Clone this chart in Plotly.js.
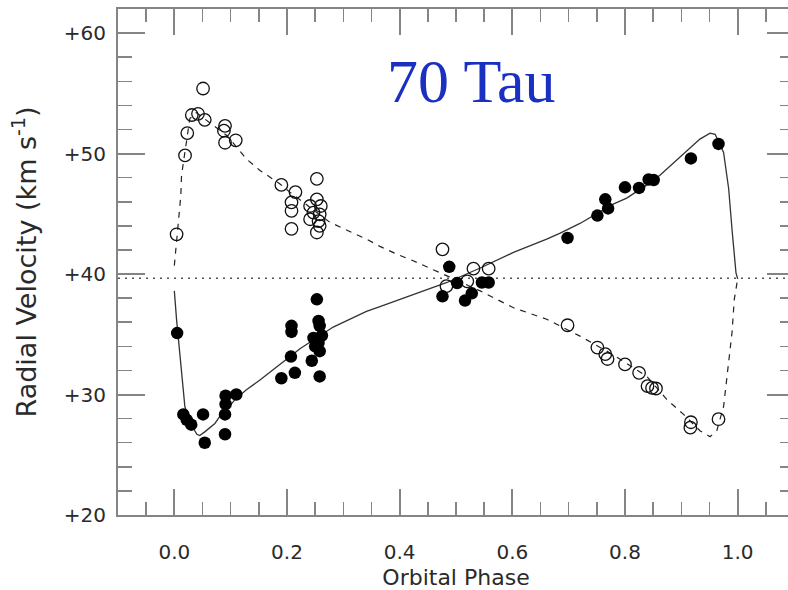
<!DOCTYPE html>
<html>
<head>
<meta charset="utf-8">
<script src="https://cdn.plot.ly/plotly-3.0.1.min.js"></script>
<style>
html,body{margin:0;padding:0;overflow:hidden;background:#fff;}
#chart{width:796px;height:590px;}
</style>
</head>
<body>
<div id="chart"></div>
<script>
// Primary star (filled circles): orbital phase and radial velocity (km/s)
var primaryPhase = [0.005,0.016,0.022,0.030,0.051,0.054,0.090,0.090,0.091,0.091,0.110,
  0.190,0.214,0.207,0.208,0.208,0.253,0.256,0.258,0.247,0.256,0.258,0.244,0.258,0.250,0.262,
  0.476,0.488,0.502,0.516,0.528,0.546,0.558,
  0.698,0.751,0.765,0.770,0.800,0.825,0.842,0.851,0.917,0.966];
var primaryVel = [35.1,28.35,27.9,27.5,28.35,26.0,26.7,28.35,29.2,29.9,30.0,
  31.35,31.8,33.15,35.7,35.2,37.9,36.1,35.7,34.7,34.3,33.6,32.8,31.5,34.0,34.9,
  38.15,40.6,39.25,37.8,38.4,39.3,39.3,
  43.0,44.85,46.2,45.45,47.2,47.15,47.85,47.8,49.6,50.8];

// Secondary star (open circles)
var secondaryPhase = [0.004,0.019,0.023,0.031,0.042,0.051,0.054,0.090,0.088,0.090,0.109,
  0.190,0.215,0.208,0.208,0.208,0.253,0.253,0.241,0.260,0.247,0.258,0.241,0.256,0.258,0.253,
  0.476,0.483,0.520,0.531,0.558,
  0.698,0.751,0.765,0.769,0.800,0.825,0.840,0.848,0.855,0.917,0.916,0.966];
var secondaryVel = [43.3,49.85,51.7,53.2,53.3,55.4,52.8,52.3,51.9,50.9,51.1,
  47.4,46.8,45.95,45.25,43.75,47.9,46.2,45.65,45.65,45.1,44.95,44.55,44.4,44.0,43.45,
  42.05,39.0,39.4,40.45,40.45,
  35.75,33.9,33.35,32.95,32.5,31.8,30.7,30.55,30.5,27.7,27.25,27.95];

// Orbital solution curves
var primaryCurvePhase = [0.000,0.004,0.0187,0.0275,0.040,0.045,0.054,0.072,0.081,0.090,0.108,
  0.128,0.152,0.176,0.205,0.223,0.282,0.341,0.365,0.383,0.424,0.484,0.543,0.602,0.661,0.685,
  0.720,0.744,0.779,0.803,0.839,0.862,0.910,0.933,0.951,0.960,0.975,0.984,0.990,0.997,1.000];
var primaryCurveVel = [38.6,36.2,29.0,27.7,26.7,26.6,26.9,27.6,28.2,28.6,29.6,
  30.4,31.2,32.1,33.2,33.8,35.6,36.9,37.3,37.6,38.3,39.3,40.5,41.8,42.9,43.4,
  44.2,44.85,45.8,46.3,47.4,48.2,50.2,51.2,51.7,51.6,50.1,47.1,43.7,40.1,39.6];

var secondaryCurvePhase = [0.000,0.0115,0.0128,0.0217,0.0275,0.039,0.093,0.104,0.128,0.152,
  0.187,0.205,0.276,0.341,0.365,0.395,0.424,0.484,0.543,0.602,0.661,0.720,0.779,0.839,
  0.874,0.904,0.933,0.951,0.963,0.975,0.984,0.990,0.994,1.000];
var secondaryCurveVel = [40.7,46.5,48.2,50.9,52.9,53.4,51.5,50.9,49.55,48.6,
  47.5,46.8,44.3,42.9,42.3,41.65,41.1,39.85,38.6,37.2,36.25,34.85,33.3,31.5,
  29.6,28.35,27.0,26.5,27.0,29.0,32.4,35.15,37.9,39.6];

// Systemic velocity (dotted line)
var gammaPhase = [-0.1, 1.1];
var gammaVel = [39.65, 39.65];

// Tick labels
var xTickVals = [0.0,0.2,0.4,0.6,0.8,1.0];
var xTickText = ["0.0","0.2","0.4","0.6","0.8","1.0"];
var yTickVals = [20,30,40,50,60];
var yTickText = ["+20","+30","+40","+50","+60"];

var axisGray = '#858585';
var txtColor = '#2a2a2a';

var traces = [
  {x: gammaPhase, y: gammaVel, mode:'lines', line:{color:'#555', width:1.3, dash:'2px,5px'}, hoverinfo:'skip', showlegend:false},
  {x: secondaryCurvePhase, y: secondaryCurveVel, mode:'lines', line:{color:'#222', width:1.2, dash:'6px,6px'}, showlegend:false},
  {x: primaryCurvePhase, y: primaryCurveVel, mode:'lines', line:{color:'#333', width:1.3}, showlegend:false},
  {x: secondaryPhase, y: secondaryVel, mode:'markers', marker:{symbol:'circle-open', size:12.5, color:'#111', line:{width:1.3, color:'#111'}}, showlegend:false},
  {x: primaryPhase, y: primaryVel, mode:'markers', marker:{symbol:'circle', size:12.5, color:'#000', line:{width:0}}, showlegend:false}
];

var layout = {
  width: 796, height: 590,
  margin: {l:118, r:2, t:9, b:75},
  paper_bgcolor:'#fff', plot_bgcolor:'#fff',
  showlegend:false,
  xaxis: {
    range:[-0.1, 1.1], tickmode:'array', tickvals:xTickVals, ticktext:xTickText,
    ticks:'inside', ticklen:26, tickwidth:2, tickcolor:axisGray,
    showline:true, linecolor:axisGray, linewidth:2, mirror:'allticks',
    showgrid:false, zeroline:false,
    minor:{tickmode:'linear', tick0:0, dtick:0.05, ticks:'inside', ticklen:13, tickwidth:1.5, tickcolor:axisGray, showgrid:false},
    tickfont:{family:'DejaVu Sans', size:20, color:txtColor},
    ticklabelstandoff: 18,
    title:{text:'Orbital Phase', font:{family:'DejaVu Sans', size:22, color:txtColor}, standoff:10},
    automargin:false
  },
  yaxis: {
    range:[20, 62], tickmode:'array', tickvals:yTickVals, ticktext:yTickText,
    ticks:'inside', ticklen:27, tickwidth:2, tickcolor:axisGray,
    showline:true, linecolor:axisGray, linewidth:2, mirror:'allticks',
    showgrid:false, zeroline:false,
    minor:{tickmode:'linear', tick0:20, dtick:2, ticks:'inside', ticklen:14, tickwidth:1.5, tickcolor:axisGray, showgrid:false},
    tickfont:{family:'DejaVu Sans', size:20, color:txtColor},
    ticklabelstandoff: 6,
    title:{text:'Radial Velocity (km s<sup>-1</sup>)', font:{family:'DejaVu Sans', size:27, color:txtColor}, standoff:19},
    automargin:false
  },
  annotations: [
    {text:'70 Tau', xref:'paper', yref:'paper', x:0.522, y:0.857, xanchor:'center', yanchor:'middle', showarrow:false,
     font:{family:'Liberation Serif', size:62, color:'#1a30c0'}}
  ]
};

Plotly.newPlot('chart', traces, layout, {displayModeBar:false, staticPlot:true});
</script>
</body>
</html>
